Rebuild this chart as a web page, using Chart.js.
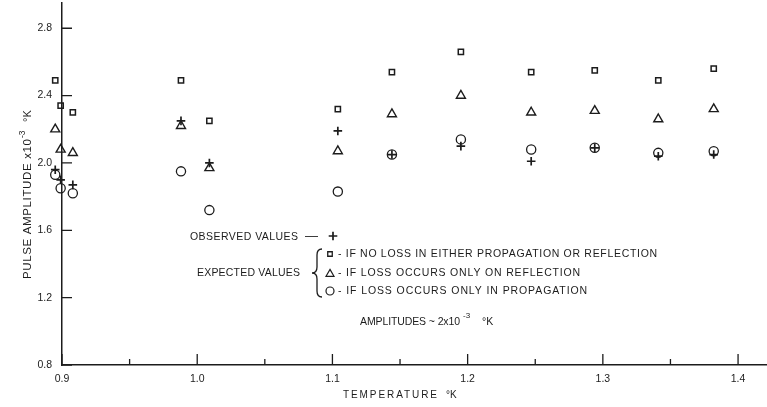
<!DOCTYPE html>
<html><head><meta charset="utf-8">
<script src="https://cdn.jsdelivr.net/npm/chart.js@4.4.1/dist/chart.umd.min.js"></script>
<style>html,body{margin:0;padding:0;background:#fff;}canvas{display:block;}</style>
</head><body>
<canvas id="c" width="767" height="407"></canvas>
<script>
const temperatures = [0.895, 0.899, 0.908, 0.988, 1.009, 1.104, 1.144, 1.195, 1.247, 1.294, 1.341, 1.382];
const observedValues = [1.96, 1.90, 1.87, 2.25, 2.00, 2.19, 2.05, 2.10, 2.01, 2.09, 2.04, 2.05];
const expectedNoLoss = [2.49, 2.34, 2.30, 2.49, 2.25, 2.32, 2.54, 2.66, 2.54, 2.55, 2.49, 2.56];
const expectedReflectionLoss = [2.20, 2.08, 2.06, 2.22, 1.97, 2.07, 2.29, 2.40, 2.30, 2.31, 2.26, 2.32];
const expectedPropagationLoss = [1.93, 1.85, 1.82, 1.95, 1.72, 1.83, 2.05, 2.14, 2.08, 2.09, 2.06, 2.07];
const yTickValues = [0.8, 1.2, 1.6, 2.0, 2.4, 2.8];
const xTickValues = [0.9, 1.0, 1.1, 1.2, 1.3, 1.4];
const xMinorTickValues = [0.95, 1.05, 1.15, 1.25, 1.35];

const ink = '#1c1c1c';
const FAM = "'Liberation Sans', Arial, sans-serif";
Chart.defaults.font.family = FAM;
Chart.defaults.color = ink;

const pts = arr => temperatures.map((t, i) => ({x: t, y: arr[i]}));
const styles = {
  square: {pointStyle: 'rect', radius: 3.7, borderWidth: 1.5},
  triangle: {pointStyle: 'triangle', radius: 5.2, borderWidth: 1.4},
  circle: {pointStyle: 'circle', radius: 4.6, borderWidth: 1.3},
  plus: {pointStyle: 'cross', radius: 4.3, borderWidth: 1.7}
};
function ds(label, arr, st) {
  return {label, data: pts(arr), pointStyle: st.pointStyle, pointRadius: st.radius,
    pointBorderWidth: st.borderWidth, pointBorderColor: ink, pointBackgroundColor: 'rgba(0,0,0,0)',
    showLine: false, clip: false};
}

// Chart.js skips points whose centre lies outside the chart area; the reference
// has a few points just left of the y axis, so draw those library elements too.
const outsidePoints = {
  id: 'outsidePoints',
  afterDatasetsDraw(chart) {
    const area = chart.chartArea;
    chart.getSortedVisibleDatasetMetas().forEach(meta => {
      meta.data.forEach(el => {
        const m = el.size() / 2;
        if (!(el.x > area.left - m)) el.draw(chart.ctx);
      });
    });
  }
};

function drawSym(ctx, st, x, y) {
  const r = st.radius;
  ctx.save();
  ctx.strokeStyle = ink; ctx.lineWidth = st.borderWidth;
  ctx.beginPath();
  if (st.pointStyle === 'rect') { const s = r * Math.SQRT1_2; ctx.rect(x - s, y - s, 2 * s, 2 * s); }
  else if (st.pointStyle === 'triangle') {
    let a = 0;
    ctx.moveTo(x + Math.sin(a) * r, y - Math.cos(a) * r);
    a += 2 * Math.PI / 3; ctx.lineTo(x + Math.sin(a) * r, y - Math.cos(a) * r);
    a += 2 * Math.PI / 3; ctx.lineTo(x + Math.sin(a) * r, y - Math.cos(a) * r);
    ctx.closePath();
  } else if (st.pointStyle === 'circle') { ctx.arc(x, y, r, 0, Math.PI * 2); }
  else { ctx.moveTo(x - r, y); ctx.lineTo(x + r, y); ctx.moveTo(x, y - r); ctx.lineTo(x, y + r); }
  ctx.stroke();
  ctx.restore();
}

function fitText(ctx, text, x, y, width, size) {
  ctx.font = size + 'px ' + FAM;
  const hasLS = 'letterSpacing' in ctx;
  if (hasLS) ctx.letterSpacing = '0px';
  const w = ctx.measureText(text).width;
  if (hasLS && text.length > 1) {
    const sp = (width - w) / (text.length - 1);
    ctx.letterSpacing = sp.toFixed(2) + 'px';
  }
  ctx.fillText(text, x, y);
  if (hasLS) ctx.letterSpacing = '0px';
}

const annotate = {
  id: 'annotate',
  afterDraw(chart) {
    const ctx = chart.ctx;
    const xs = chart.scales.x, ys = chart.scales.y;
    const bottom = chart.chartArea.bottom, left = chart.chartArea.left;
    ctx.save();
    ctx.strokeStyle = ink; ctx.lineWidth = 1.3;
    // inward ticks
    ctx.beginPath();
    xTickValues.forEach(v => { const p = xs.getPixelForValue(v); ctx.moveTo(p, bottom); ctx.lineTo(p, bottom - 11); });
    xMinorTickValues.forEach(v => { const p = xs.getPixelForValue(v); ctx.moveTo(p, bottom); ctx.lineTo(p, bottom - 6); });
    yTickValues.forEach(v => { const p = ys.getPixelForValue(v); ctx.moveTo(left, p); ctx.lineTo(left + 10, p); });
    ctx.stroke();

    ctx.fillStyle = ink;
    ctx.textBaseline = 'middle';
    ctx.textAlign = 'left';

    // x title
    fitText(ctx, 'TEMPERATURE', 343, 395, 94, 10);
    ctx.font = '10px ' + FAM; ctx.fillText('°K', 446, 395);

    // y title
    ctx.save();
    ctx.translate(28, 279);
    ctx.rotate(-Math.PI / 2);
    fitText(ctx, 'PULSE AMPLITUDE x10', 0, 0, 140, 11.5);
    ctx.font = '8.5px ' + FAM; ctx.fillText('-3', 141, -5);
    ctx.font = '11px ' + FAM; ctx.fillText('°K', 157, 0);
    ctx.restore();

    // legend block
    fitText(ctx, 'OBSERVED VALUES', 190, 237, 108, 10.5);
    ctx.font = '13px ' + FAM; ctx.fillText('—', 305, 236);
    drawSym(ctx, styles.plus, 333, 236);

    fitText(ctx, 'EXPECTED VALUES', 197, 273, 103, 10.5);
    // brace
    ctx.beginPath();
    ctx.lineWidth = 1.3;
    ctx.moveTo(322, 249);
    ctx.quadraticCurveTo(317, 249, 317, 255);
    ctx.lineTo(317, 267);
    ctx.quadraticCurveTo(317, 273, 312, 273);
    ctx.quadraticCurveTo(317, 273, 317, 279);
    ctx.lineTo(317, 291);
    ctx.quadraticCurveTo(317, 297, 322, 297);
    ctx.stroke();

    drawSym(ctx, {pointStyle: 'rect', radius: 3.2, borderWidth: 1.3}, 330, 254);
    drawSym(ctx, {pointStyle: 'triangle', radius: 4.6, borderWidth: 1.2}, 330, 274);
    drawSym(ctx, {pointStyle: 'circle', radius: 4, borderWidth: 1.2}, 330, 291);
    fitText(ctx, '- IF NO LOSS IN EITHER PROPAGATION OR REFLECTION', 338, 254, 319, 10.5);
    fitText(ctx, '- IF LOSS OCCURS ONLY ON REFLECTION', 338, 273, 242, 10.5);
    fitText(ctx, '- IF LOSS OCCURS ONLY IN PROPAGATION', 338, 291, 249, 10.5);

    fitText(ctx, 'AMPLITUDES ~ 2x10', 360, 322, 100, 10.5);
    ctx.font = '8px ' + FAM; ctx.fillText('-3', 463, 316);
    ctx.font = '10.5px ' + FAM; ctx.fillText('°K', 482, 322);
    ctx.restore();
  }
};

new Chart(document.getElementById('c'), {
  type: 'scatter',
  data: {datasets: [
    ds('If loss occurs only in propagation', expectedPropagationLoss, styles.circle),
    ds('If loss occurs only on reflection', expectedReflectionLoss, styles.triangle),
    ds('If no loss in either propagation or reflection', expectedNoLoss, styles.square),
    ds('Observed values', observedValues, styles.plus)
  ]},
  options: {
    responsive: false, animation: false, devicePixelRatio: 1, events: [],
    layout: {autoPadding: false, padding: {top: 3, left: 0, right: 0, bottom: 0}},
    plugins: {legend: {display: false}, tooltip: {enabled: false}},
    scales: {
      x: {type: 'linear', min: 0.9, max: 1.4214,
        afterBuildTicks: s => { s.ticks = xTickValues.map(v => ({value: v})); },
        afterFit: s => { s.height = 42; s.paddingLeft = 0; s.paddingRight = 0; },
        grid: {display: false, drawTicks: false},
        border: {display: true, color: ink, width: 1.5},
        ticks: {padding: 8, maxRotation: 0, autoSkip: false, color: ink, font: {size: 10.5}, callback: v => Number(v).toFixed(1)}
      },
      y: {type: 'linear', min: 0.8, max: 2.95,
        afterBuildTicks: s => { s.ticks = yTickValues.map(v => ({value: v})); },
        afterFit: s => { s.width = 62; s.paddingTop = 0; s.paddingBottom = 0; },
        grid: {display: false, drawTicks: false},
        border: {display: true, color: ink, width: 1.5},
        ticks: {padding: 10, color: ink, font: {size: 10.5}, callback: v => Number(v).toFixed(1)}
      }
    }
  },
  plugins: [outsidePoints, annotate]
});
</script>
</body></html>
